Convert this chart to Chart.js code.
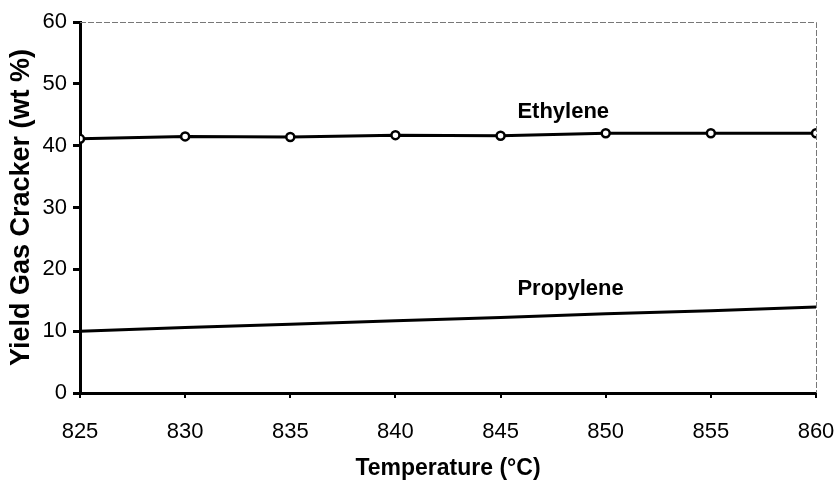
<!DOCTYPE html>
<html>
<head>
<meta charset="utf-8">
<script src="https://cdn.jsdelivr.net/npm/chart.js@4/dist/chart.umd.min.js"></script>
<style>
  html, body { margin: 0; padding: 0; background: #fff; }
  #wrap { width: 837px; height: 482px; }
</style>
</head>
<body>
<div id="wrap"><canvas id="myChart"></canvas></div>
<script>
// temperatures (degC) and yields (wt %)
const temperatures = [825, 830, 835, 840, 845, 850, 855, 860];
const ethylene = [41.1, 41.5, 41.4, 41.7, 41.6, 42.0, 42.0, 42.0];
const propylene = [10.0, 10.6, 11.1, 11.7, 12.2, 12.8, 13.3, 13.9];

// series names written next to the curves, placed at (x, y) in data units
const seriesLabels = [
  { text: 'Ethylene', x: 845.8, y: 45.4 },
  { text: 'Propylene', x: 845.8, y: 16.8 }
];

const FONT = "'Liberation Sans', Arial, Helvetica, sans-serif";

const toPoints = (ys) => temperatures.map((t, i) => ({ x: t, y: ys[i] }));

// thin top/right frame plus the curve labels
const frameAndLabels = {
  id: 'frameAndLabels',
  afterDatasetsDraw(chart) {
    const { ctx, chartArea: a, scales } = chart;
    ctx.save();
    ctx.strokeStyle = '#777';
    ctx.lineWidth = 1;
    ctx.setLineDash([6, 2]);
    ctx.beginPath();
    ctx.moveTo(a.left, a.top + 0.5);
    ctx.lineTo(a.right + 0.5, a.top + 0.5);
    ctx.lineTo(a.right + 0.5, a.bottom);
    ctx.stroke();
    ctx.setLineDash([]);
    ctx.fillStyle = '#000';
    ctx.font = 'bold 22px ' + FONT;
    ctx.textBaseline = 'middle';
    ctx.textAlign = 'left';
    seriesLabels.forEach(l => {
      ctx.fillText(l.text, scales.x.getPixelForValue(l.x), scales.y.getPixelForValue(l.y));
    });
    ctx.restore();
  }
};

const ctx = document.getElementById('myChart').getContext('2d');
const chart = new Chart(ctx, {
  type: 'line',
  data: {
    datasets: [
      {
        label: 'Ethylene',
        data: toPoints(ethylene),
        borderColor: '#000',
        borderWidth: 3,
        pointRadius: 4,
        pointBorderWidth: 2.5,
        pointBackgroundColor: '#fff',
        pointBorderColor: '#000',
        tension: 0
      },
      {
        label: 'Propylene',
        data: toPoints(propylene),
        borderColor: '#000',
        borderWidth: 3,
        pointRadius: 0,
        tension: 0
      }
    ]
  },
  options: {
    responsive: true,
    maintainAspectRatio: false,
    animation: false,
    layout: { padding: { top: 22, right: 21, left: 0, bottom: 0 } },
    plugins: {
      legend: { display: false },
      tooltip: { enabled: false }
    },
    scales: {
      x: {
        type: 'linear',
        min: 825,
        max: 860,
        afterFit: (s) => { s.height = 89; s.paddingLeft = 0; s.paddingRight = 0; },
        border: { color: '#000', width: 3 },
        grid: { drawOnChartArea: false, drawTicks: true, tickLength: 5, color: '#000', lineWidth: 2 },
        ticks: {
          stepSize: 5,
          color: '#000',
          padding: 21,
          font: { family: FONT, size: 22 }
        },
        title: {
          display: true,
          text: 'Temperature (°C)',
          color: '#000',
          padding: { top: 4, bottom: 0 },
          font: { family: FONT, size: 23, weight: 'bold' }
        }
      },
      y: {
        min: 0,
        max: 60,
        afterFit: (s) => { s.width = 80; },
        border: { color: '#000', width: 3 },
        grid: { drawOnChartArea: false, drawTicks: true, tickLength: 7, color: '#000', lineWidth: 3 },
        ticks: {
          stepSize: 10,
          color: '#000',
          padding: 6,
          font: { family: FONT, size: 22 }
        },
        title: {
          display: true,
          text: 'Yield Gas Cracker (wt %)',
          color: '#000',
          padding: { top: 5, bottom: 0 },
          font: { family: FONT, size: 27, weight: 'bold' }
        }
      }
    }
  },
  plugins: [frameAndLabels]
});
</script>
</body>
</html>
